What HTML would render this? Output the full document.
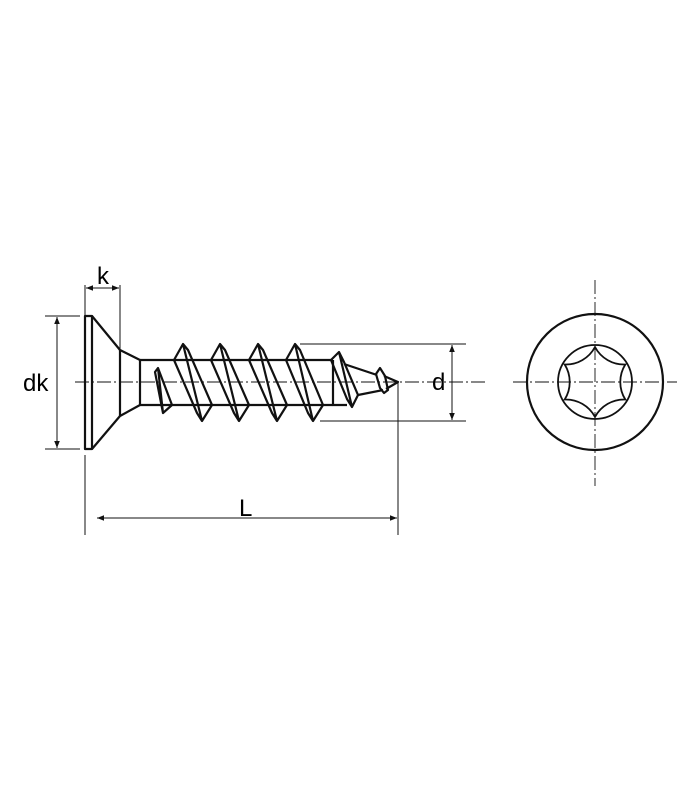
<!DOCTYPE html>
<html><head><style>
html,body{margin:0;padding:0;background:#fff;}
svg{display:block;}
text{font-family:"Liberation Sans",sans-serif;font-size:24px;fill:#000;}
</style></head><body>
<svg width="700" height="800" viewBox="0 0 700 800">
<defs>
<marker id="ar" viewBox="0 0 10 10" refX="10" refY="5" markerWidth="10" markerHeight="7" orient="auto-start-reverse" markerUnits="userSpaceOnUse">
<path d="M0,1 L10,5 L0,9 Z" fill="#111"/></marker>
</defs>
<g stroke="#111" fill="none">
<line x1="75" y1="382" x2="485" y2="382" stroke-width="0.9" stroke-dasharray="14,3,2,3"/>
<line x1="513" y1="382" x2="677" y2="382" stroke-width="0.9" stroke-dasharray="14,3,2,3"/>
<line x1="595" y1="280" x2="595" y2="486" stroke-width="0.9" stroke-dasharray="14,3,2,3"/>
<g stroke-width="1">
<line x1="85" y1="285" x2="85" y2="316"/><line x1="120" y1="285" x2="120" y2="350"/>
<line x1="86" y1="288" x2="119" y2="288" marker-start="url(#ar)" marker-end="url(#ar)"/>
<line x1="45" y1="316" x2="80" y2="316"/><line x1="45" y1="449" x2="80" y2="449"/>
<line x1="57" y1="317" x2="57" y2="448" marker-start="url(#ar)" marker-end="url(#ar)"/>
<line x1="300" y1="344" x2="466" y2="344"/><line x1="320" y1="421" x2="466" y2="421"/>
<line x1="452" y1="345" x2="452" y2="420" marker-start="url(#ar)" marker-end="url(#ar)"/>
<line x1="85" y1="455" x2="85" y2="535"/><line x1="398" y1="382" x2="398" y2="535"/>
<line x1="97" y1="518" x2="397" y2="518" marker-start="url(#ar)" marker-end="url(#ar)"/>
</g>
<g stroke-width="2.2" stroke-linejoin="round">
<rect x="85" y="316" width="7" height="133"/>
<path d="M92,316 L120,350 L140,360 L140,405 L120,416 L92,449"/>
<line x1="120" y1="350" x2="120" y2="416"/>
<line x1="140" y1="360" x2="333" y2="360"/>
<line x1="140" y1="405" x2="333" y2="405"/>
<path d="M174,360 L183,344 L188,350 L212,405 L202,421 L197,413 Z M183,344 L202,421"/>
<path d="M211,360 L220,344 L225,350 L249,405 L239,421 L234,413 Z M220,344 L239,421"/>
<path d="M249,360 L258,344 L263,350 L287,405 L277,421 L272,413 Z M258,344 L277,421"/>
<path d="M286,360 L295,344 L300,350 L323,405 L313,421 L308,413 Z M295,344 L313,421"/>
<path d="M155,372 L158,368 L172,405 L163,413 Z M158,368 L163,413"/>
<path d="M331,360 L339,352 L344,362 L358,395 L352,407 L347,399 Z M339,352 L352,407"/>
<path d="M333,360 L333,405 L347,405"/>
<path d="M344,364 L377,375 M358,395 L383,390"/>
<path d="M376,374 L380,368 L385,376 L388,390 L384,393 L380,388 Z"/>
<path d="M384,376 L398,382 L386,389"/>
<circle cx="595" cy="382" r="68"/>
</g>
<g stroke-width="1.8">
<circle cx="595" cy="382" r="37"/>
<path d="M595,347 A33,33 0 0 0 625.3,364.5 A33,33 0 0 0 625.3,399.5 A33,33 0 0 0 595,417 A33,33 0 0 0 564.7,399.5 A33,33 0 0 0 564.7,364.5 A33,33 0 0 0 595,347 Z"/>
</g>
</g>
<text x="97" y="284">k</text>
<text x="23" y="391">dk</text>
<text x="432" y="390">d</text>
<text x="239" y="516">L</text>
</svg>
</body></html>
